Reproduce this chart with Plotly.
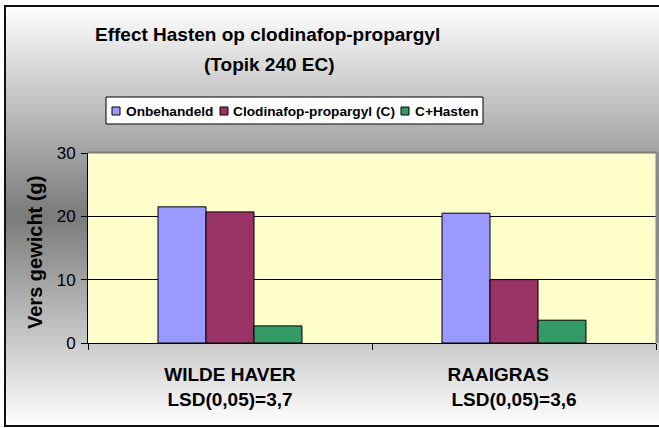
import plotly.graph_objects as go

# ---- data ----
crops = ["WILDE HAVER", "RAAIGRAS"]
lsd_values = ["3,7", "3,6"]
series_names = ["Onbehandeld", "Clodinafop-propargyl (C)", "C+Hasten"]
onbehandeld = [21.5, 20.5]
clodinafop = [20.7, 10.0]
c_hasten = [2.7, 3.6]
y_ticks = [0, 10, 20, 30]

colors = ["#9999FF", "#993366", "#339966"]
FONT = "Arial, Liberation Sans, sans-serif"

W, H = 659, 428
PL, PR, PT, PB = 88, 656, 153, 343   # plot area in pixels


def fx(x):
    return x / W


def fy(y):
    return 1 - y / H


pad = {"WILDE HAVER": "", "RAAIGRAS": "\u00a0" * 6}
tick_labels = [f"{c}{pad.get(c, '')}<br>LSD(0,05)={v}" for c, v in zip(crops, lsd_values)]

fig = go.Figure()

# background gradient (white -> gray -> white), drawn on a hidden full-page subplot
top, bot, step = 6, 426, 2
edges = list(range(top, bot + 1, step))
levels = []
for i in range(len(edges) - 1):
    t = ((edges[i] + edges[i + 1]) / 2 - top) / (bot - top)
    levels.append([255 - (255 - 122) * (1 - abs(2 * t - 1))])
fig.add_trace(go.Heatmap(z=levels, x=[6, 700], y=edges, xaxis="x", yaxis="y",
                         colorscale=[[0, "rgb(122,122,122)"], [1, "rgb(255,255,255)"]],
                         zmin=122, zmax=255, showscale=False, hoverinfo="skip"))

for name, vals, col in zip(series_names, [onbehandeld, clodinafop, c_hasten], colors):
    fig.add_trace(go.Bar(x=tick_labels, y=vals, name=name, xaxis="x2", yaxis="y2",
                         marker=dict(color=col, line=dict(color="black", width=1))))

shapes = [
    # plot area (yellow), drawn in the bar subplot so it sits above the gradient
    dict(type="rect", xref="x2", yref="y2", layer="below",
         x0=-0.5, x1=1.5, y0=0, y1=30, fillcolor="#FFFFCC", line=dict(width=0)),
    # gray top / right border of plot area
    dict(type="line", xref="paper", yref="paper", layer="above",
         x0=fx(PL), x1=fx(PR), y0=fy(PT - 0.5), y1=fy(PT - 0.5),
         line=dict(color="#7a7a7a", width=2)),
    dict(type="line", xref="paper", yref="paper", layer="above",
         x0=fx(PR + 1), x1=fx(PR + 1), y0=fy(PB), y1=fy(PT - 1),
         line=dict(color="#8a8a8a", width=3)),
    # outer frame
    dict(type="rect", xref="paper", yref="paper", layer="above",
         x0=fx(5), x1=fx(W + 5), y0=fy(426), y1=fy(6),
         fillcolor="rgba(0,0,0,0)", line=dict(color="#111", width=2)),
    # legend box
    dict(type="rect", xref="paper", yref="paper", layer="above",
         x0=fx(106), x1=fx(483), y0=fy(124), y1=fy(97),
         fillcolor="white", line=dict(color="black", width=1)),
]
sym_x = [112, 220, 401]
txt_x = [124, 231, 413]
for sx, col in zip(sym_x, colors):
    shapes.append(dict(type="rect", xref="paper", yref="paper", layer="above",
                       x0=fx(sx), x1=fx(sx + 8), y0=fy(115), y1=fy(107),
                       fillcolor=col, line=dict(color="black", width=1)))

annotations = [
    dict(text="<b>Effect Hasten op clodinafop-propargyl</b>", x=fx(267), y=fy(35),
         xref="paper", yref="paper", showarrow=False, xanchor="center", yanchor="middle",
         font=dict(family=FONT, size=19, color="black")),
    dict(text="<b>(Topik 240 EC)</b>", x=fx(269), y=fy(65),
         xref="paper", yref="paper", showarrow=False, xanchor="center", yanchor="middle",
         font=dict(family=FONT, size=19, color="black")),
    dict(text="<b>Vers gewicht (g)</b>", x=fx(35), y=fy(253), textangle=-90,
         xref="paper", yref="paper", showarrow=False, xanchor="center", yanchor="middle",
         font=dict(family=FONT, size=20, color="black")),
]
for tx, name in zip(txt_x, series_names):
    annotations.append(dict(text=f"<b>{name}</b>", x=fx(tx), y=fy(111),
                            xref="paper", yref="paper", showarrow=False,
                            xanchor="left", yanchor="middle",
                            font=dict(family=FONT, size=13.7, color="black")))

fig.update_layout(
    width=W, height=H,
    margin=dict(l=0, r=0, t=0, b=0, pad=0, autoexpand=False),
    paper_bgcolor="white", plot_bgcolor="rgba(0,0,0,0)",
    barmode="group", bargap=0.493, bargroupgap=0,
    showlegend=False,
    font=dict(family=FONT, color="black"),
    shapes=shapes, annotations=annotations,
    xaxis=dict(domain=[0, 1], range=[0, W], visible=False, fixedrange=True,
               automargin=False),
    yaxis=dict(domain=[0, 1], range=[H, 0], visible=False, fixedrange=True,
               automargin=False),
    xaxis2=dict(domain=[fx(PL), fx(PR)], anchor="y2", type="category",
                showline=True, linecolor="black", linewidth=1,
                ticks="outside", ticklen=6, tickcolor="black", tickson="boundaries",
                showgrid=False, tickfont=dict(family=FONT, size=19, color="black"),
                tickprefix="<b>", ticksuffix="</b>", range=[-0.5, 1.5],
                ticklabelstandoff=14, automargin=False),
    yaxis2=dict(domain=[fy(PB), fy(PT)], anchor="x2", range=[0, 30], tickvals=y_ticks,
                showline=True, linecolor="black", linewidth=1,
                ticks="outside", ticklen=6, tickcolor="black",
                showgrid=True, gridcolor="black", gridwidth=1, zeroline=False,
                tickfont=dict(family=FONT, size=17, color="black"),
                tickprefix="<b>", ticksuffix="</b>", ticklabelstandoff=2,
                automargin=False),
)

fig.write_html("out.html", config={"displayModeBar": False},
               post_script="document.body.style.margin='0px';")
